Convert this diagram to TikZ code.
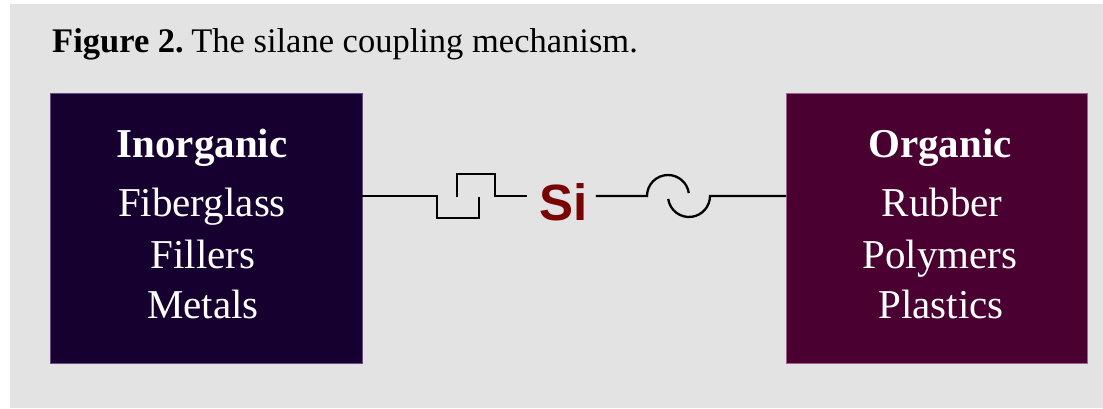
\documentclass[tikz,border=0pt]{standalone}
\usepackage{fontspec}
\setmainfont{Liberation Serif}
\newfontfamily\sisans{Liberation Sans}
\definecolor{panelgray}{HTML}{E3E3E3}
\definecolor{inorgc}{HTML}{15002F}
\definecolor{inorgb}{HTML}{6A4A82}
\definecolor{orgc}{HTML}{4A0030}
\definecolor{orgb}{HTML}{A0608E}
\definecolor{sired}{HTML}{780404}
\tikzset{
  box/.style={rectangle, inner sep=0, outer sep=0, line width=1pt, minimum width=311pt, minimum height=270pt},
  head/.style={anchor=base, text=white, font=\fontsize{41}{48}\selectfont\bfseries},
  item/.style={anchor=base, text=white, font=\fontsize{41}{48}\selectfont},
  bond/.style={line width=2.3pt, line join=miter}
}
\begin{document}
\begin{tikzpicture}[x=1pt, y=-1pt]
\useasboundingbox (0,0) rectangle (1103,408);
\fill[white] (0,0) rectangle (1103,408);
\fill[panelgray] (10,4) rectangle (1103,408);
\node[anchor=base west, inner sep=0, font=\fontsize{34.5}{42}\selectfont] (title) at (52,52) {\textbf{Figure 2.}\hspace{0.22em}The silane coupling mechanism.};
% boxes
\node[box, fill=inorgc, draw=inorgb, minimum width=312pt] (left) at (206,228) {};
\node[box, fill=orgc, draw=orgb, minimum width=301pt] (right) at (936.5,228) {};
% left texts
\node[head] (inorg) at (202,157) {Inorganic};
\node[item] (fiber) at (202,216) {Fiberglass};
\node[item] (fill) at (203,268) {Fillers};
\node[item] (metal) at (203,318) {Metals};
% right texts
\node[head] (org) at (940,157) {Organic};
\node[item] (rubber) at (942,216) {Rubber};
\node[item] (poly) at (940,268) {Polymers};
\node[item] (plast) at (941,318) {Plastics};
% Si
\node[anchor=base, inner sep=0, text=sired, font=\sisans\fontsize{51}{60}\selectfont\bfseries] (si) at (563.5,220) {Si};
% connector left (square hook)
\coordinate (la) at ([yshift=32pt]left.east);
\coordinate (ra) at ([yshift=32pt]right.west);
\draw[bond] (la) -- (437,196) -- (437,218) -- (479,218) -- (479,197);
\draw[bond] (457,197) -- (457,174) -- (495,174) -- (495,196) -- ([xshift=-12pt]si.west |- la);
% connector right (curved hook)
\draw[bond] ([xshift=8pt]si.east |- la) -- (647,196) arc[start angle=180, end angle=8, radius=21pt];
\draw[bond] (668.2,198.9) arc[start angle=188, end angle=360, radius=21pt] -- (ra);
\end{tikzpicture}
\end{document}
